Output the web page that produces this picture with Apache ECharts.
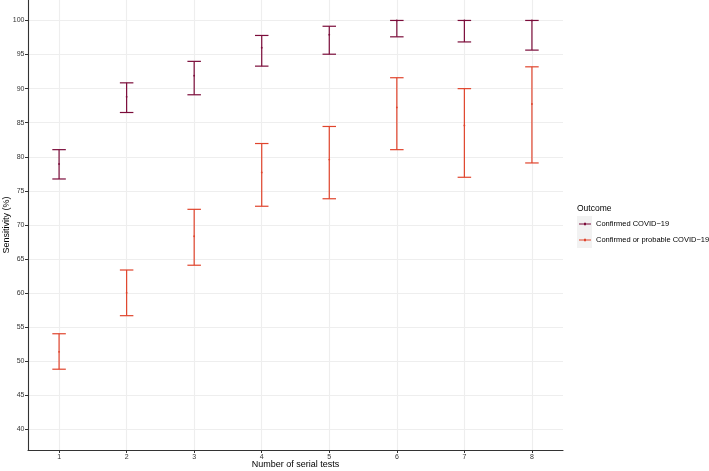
<!DOCTYPE html>
<html>
<head>
<meta charset="utf-8">
<script src="https://cdn.jsdelivr.net/npm/echarts@6/dist/echarts.min.js"></script>
<style>
html,body{margin:0;padding:0;background:#fff;}
#chart{width:709px;height:471px;}
</style>
</head>
<body>
<div id="chart"></div>
<script>
var tests = [1, 2, 3, 4, 5, 6, 7, 8];
var xTicks = [1, 2, 3, 4, 5, 6, 7, 8];
var yTicks = [40, 45, 50, 55, 60, 65, 70, 75, 80, 85, 90, 95, 100];
var seriesNames = ['Confirmed COVID\u221219', 'Confirmed or probable COVID\u221219'];
var confirmedMid = [78.95, 88.8, 91.9, 96.0, 97.9, 100, 100, 100];
var confirmedLo  = [76.75, 86.5, 89.1, 93.3, 95.05, 97.6, 96.85, 95.65];
var confirmedHi  = [81.05, 90.85, 94.0, 97.8, 99.15, 100, 100, 100];
var probableMid = [51.4, 60.05, 68.35, 77.7, 79.6, 87.25, 84.6, 87.75];
var probableLo  = [48.85, 56.7, 64.1, 72.75, 73.85, 81.05, 77.0, 79.1];
var probableHi  = [54.05, 63.4, 72.3, 81.95, 84.45, 91.6, 90.0, 93.2];
var colors = ['#7b0c3a', '#e0442c'];

function build(mid, lo, hi) {
  return tests.map(function (x, i) { return [x, lo[i], hi[i], mid[i]]; });
}

function makeRender(color) {
  return function (params, api) {
    var x = api.value(0), lo = api.value(1), hi = api.value(2), m = api.value(3);
    var pLo = api.coord([x, lo]);
    var pHi = api.coord([x, hi]);
    var pM = api.coord([x, m]);
    var capL = api.coord([x - 0.1, lo])[0];
    var capR = api.coord([x + 0.1, lo])[0];
    var st = { stroke: color, lineWidth: 1.2 };
    return {
      type: 'group',
      children: [
        { type: 'line', shape: { x1: pLo[0], y1: pLo[1], x2: pHi[0], y2: pHi[1] }, style: st },
        { type: 'line', shape: { x1: capL, y1: pLo[1], x2: capR, y2: pLo[1] }, style: st },
        { type: 'line', shape: { x1: capL, y1: pHi[1], x2: capR, y2: pHi[1] }, style: st },
        { type: 'circle', shape: { cx: pM[0], cy: pM[1], r: 0.9 }, style: { fill: color } }
      ]
    };
  };
}

var font = 'Liberation Sans, Arial, Helvetica, sans-serif';
var chart = echarts.init(document.getElementById('chart'), null, { renderer: 'canvas' });
var iconPath = 'path://M0,4H24V6H0Z M10,2.5H14V7.5H10Z';
chart.setOption({
  animation: false,
  backgroundColor: '#ffffff',
  grid: { left: 28, right: 146, top: 0, bottom: 21, containLabel: false, outerBoundsMode: 'none' },
  xAxis: {
    type: 'value', min: 0.54, max: 8.46,
    name: 'Number of serial tests', nameLocation: 'middle', nameGap: 10, nameMoveOverlap: false,
    nameTextStyle: { fontFamily: font, fontSize: 9, color: '#000' },
    axisLine: { show: true, onZero: false, lineStyle: { color: '#333', width: 1.1 } },
    axisTick: { show: true, length: 3, customValues: xTicks, lineStyle: { color: '#333', width: 1 } },
    axisLabel: { customValues: xTicks, margin: 4, fontFamily: font, fontSize: 7, color: '#333' },
    splitLine: { show: true, lineStyle: { color: '#eeeeee', width: 1.2 } }
  },
  yAxis: {
    type: 'value', min: 37, max: 103,
    name: 'Sensitivity (%)', nameLocation: 'middle', nameGap: 17, nameMoveOverlap: false,
    nameTextStyle: { fontFamily: font, fontSize: 9, color: '#000' },
    axisLine: { show: true, onZero: false, lineStyle: { color: '#333', width: 1.1 } },
    axisTick: { show: true, length: 3, customValues: yTicks, lineStyle: { color: '#333', width: 1 } },
    axisLabel: { customValues: yTicks, margin: 3.5, fontFamily: font, fontSize: 7, color: '#333' },
    splitLine: { show: true, lineStyle: { color: '#eeeeee', width: 1.2 } }
  },
  legend: {
    orient: 'vertical', left: 579, top: 216, padding: 0, itemGap: 0,
    itemWidth: 12, itemHeight: 3,
    data: [
      { name: seriesNames[0], icon: iconPath, itemStyle: { color: colors[0] } },
      { name: seriesNames[1], icon: iconPath, itemStyle: { color: colors[1] } }
    ],
    textStyle: { fontFamily: font, fontSize: 7.5, color: '#000', lineHeight: 16, height: 16 }
  },
  graphic: [
    { type: 'rect', left: 577, top: 216, z: -1, shape: { width: 15, height: 16 }, style: { fill: '#f2f2f2' } },
    { type: 'rect', left: 577, top: 232, z: -1, shape: { width: 15, height: 16 }, style: { fill: '#f2f2f2' } },
    { type: 'text', left: 577, top: 204, style: { text: 'Outcome', fontFamily: font, fontSize: 8.5, fill: '#000' } }
  ],
  series: [
    { name: seriesNames[0], type: 'custom', renderItem: makeRender(colors[0]), data: build(confirmedMid, confirmedLo, confirmedHi), itemStyle: { color: colors[0] }, encode: { x: 0, y: [1, 2, 3] } },
    { name: seriesNames[1], type: 'custom', renderItem: makeRender(colors[1]), data: build(probableMid, probableLo, probableHi), itemStyle: { color: colors[1] }, encode: { x: 0, y: [1, 2, 3] } }
  ]
});
</script>
</body>
</html>
